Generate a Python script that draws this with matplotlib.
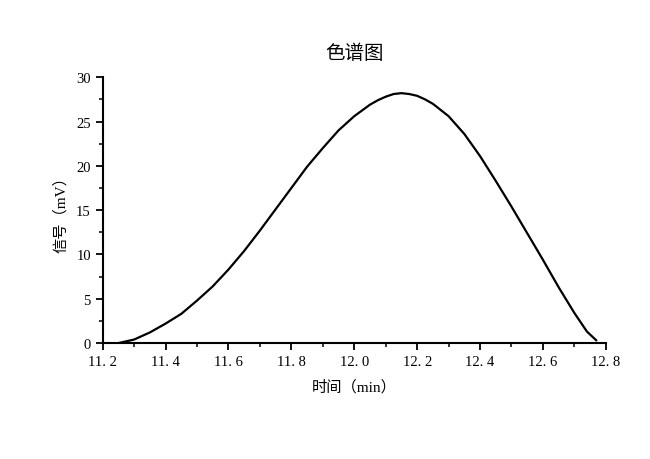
import matplotlib
matplotlib.use('Agg')
import matplotlib.pyplot as plt
from matplotlib.ticker import MultipleLocator

plt.rcParams['font.family'] = ['Liberation Serif', 'Noto Sans CJK SC']

# values
time_min = [11.25, 11.30, 11.35, 11.40, 11.45, 11.50, 11.55, 11.60, 11.65, 11.70,
            11.75, 11.80, 11.85, 11.90, 11.95, 12.00, 12.05, 12.075, 12.10, 12.125,
            12.15, 12.175, 12.20, 12.225, 12.25, 12.30, 12.35, 12.40, 12.45, 12.50,
            12.55, 12.60, 12.65, 12.70, 12.74, 12.77]
signal_mv = [0.0, 0.4, 1.2, 2.2, 3.3, 4.8, 6.4, 8.3, 10.4, 12.7,
             15.1, 17.5, 19.9, 22.0, 24.0, 25.6, 26.9, 27.4, 27.8, 28.1,
             28.2, 28.1, 27.9, 27.5, 27.0, 25.6, 23.6, 21.1, 18.3, 15.4,
             12.4, 9.4, 6.3, 3.4, 1.3, 0.3]

fig = plt.figure(figsize=(6.5, 4.6), dpi=100)
ax = fig.add_axes([0.158, 0.252, 0.774, 0.578])

ax.plot(time_min, signal_mv, color='black', lw=1.6,
        solid_joinstyle='round', solid_capstyle='round')

ax.set_xlim(11.2, 12.8)
ax.set_ylim(0, 30)
ax.xaxis.set_major_locator(MultipleLocator(0.2))
ax.xaxis.set_minor_locator(MultipleLocator(0.1))
ax.yaxis.set_major_locator(MultipleLocator(5))
ax.yaxis.set_minor_locator(MultipleLocator(2.5))
ax.set_xticklabels([f'{v:.1f}'.replace('.', '. ') for v in ax.get_xticks()])

for s in ['top', 'right']:
    ax.spines[s].set_visible(False)
for s in ['left', 'bottom']:
    ax.spines[s].set_linewidth(1.5)
ax.tick_params(which='major', direction='out', length=5, width=1.3, labelsize=10.5)
ax.tick_params(which='minor', direction='out', length=3, width=1.1)

ax.set_title('色谱图', fontsize=14, pad=14)
ax.set_xlabel('时间（min）', fontsize=11, labelpad=8)
ax.set_ylabel('信号（mV）', fontsize=11, labelpad=6)

fig.savefig('out.png', dpi=100)
